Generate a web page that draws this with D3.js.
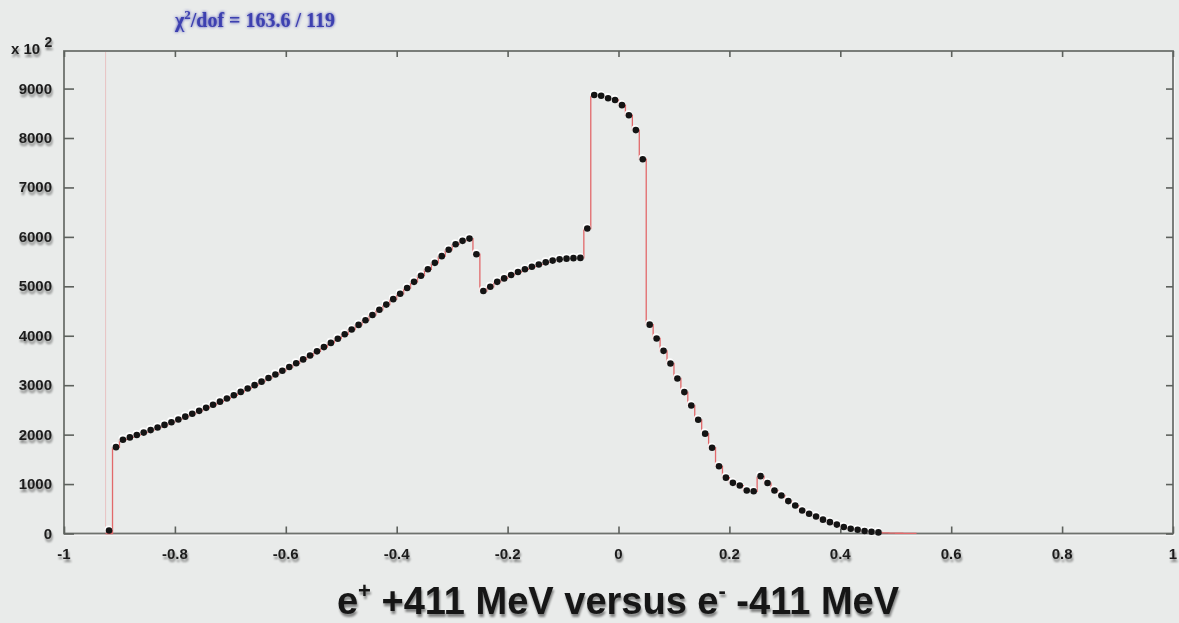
<!DOCTYPE html>
<html>
<head>
<meta charset="utf-8">
<script src="https://cdn.jsdelivr.net/npm/d3@7/dist/d3.min.js"></script>
<style>
  html, body { margin: 0; padding: 0; background: #e9ebea; }
  svg { display: block; }
</style>
</head>
<body>
<svg id="chart" width="1179" height="623"></svg>
<script>
// Histogram binning (x in units of the plotted variable)
const binLow = -0.925;
const binWidth = 0.0125;

// Measured counts per bin (axis units of 10^2), first bin starts at binLow
const counts = [
  60, 1747, 1897,
  1944, 1992, 2041, 2092, 2144, 2197, 2251, 2307, 2364, 2422, 2481, 2542, 2604,
  2667, 2731, 2797, 2864, 2932, 3001, 3072, 3144, 3217, 3291, 3367, 3444, 3522,
  3600, 3685, 3770, 3855, 3940, 4030, 4125, 4220, 4315, 4420, 4525, 4630, 4740,
  4850, 4965, 5090, 5215, 5345, 5475, 5610, 5740, 5850, 5920,
  5965, 5650,
  4905, 4990, 5090, 5160, 5230, 5290, 5345, 5395, 5440, 5485, 5520, 5545, 5560, 5570, 5575,
  6170,
  8870, 8855, 8805, 8770, 8665, 8460, 8160, 7570,
  4225, 3945, 3695, 3440, 3135, 2860, 2590, 2300, 2020, 1735,
  1360, 1130, 1025, 970, 870, 855, 1160, 1020, 870, 770,
  655, 565, 465, 400, 345, 280, 230, 180, 130, 95,
  75, 50, 35, 22
];

// Fitted histogram: empty first bin, follows the data, then a short tail
const fitHead = [0];
const fitTail = [14, 9, 5, 3, 1];
const fitValues = fitHead.concat(counts.slice(1), fitTail);

const xTicks = [-1, -0.8, -0.6, -0.4, -0.2, 0, 0.2, 0.4, 0.6, 0.8, 1];
const xTickLabels = ["-1", "-0.8", "-0.6", "-0.4", "-0.2", "0", "0.2", "0.4", "0.6", "0.8", "1"];
const yTicks = [0, 1000, 2000, 3000, 4000, 5000, 6000, 7000, 8000, 9000];
const yTickLabels = ["0", "1000", "2000", "3000", "4000", "5000", "6000", "7000", "8000", "9000"];

const chiText = { chi: "\u03C7", sup: "2", rest: "/dof = 163.6 / 119" };

const svg = d3.select("#chart");
const W = 1179, H = 623;
const plot = { left: 64, right: 1173, top: 51, bottom: 533.5 };

const x = d3.scaleLinear().domain([-1, 1]).range([plot.left, plot.right]);
const y = d3.scaleLinear().domain([0, 9760]).range([plot.bottom, plot.top]);

// Soft drop shadow used by the texts
const defs = svg.append("defs");
const sh = defs.append("filter").attr("id", "shadow")
  .attr("x", "-10%").attr("y", "-30%").attr("width", "130%").attr("height", "180%");
sh.append("feGaussianBlur").attr("in", "SourceAlpha").attr("stdDeviation", 1.3).attr("result", "b");
sh.append("feOffset").attr("in", "b").attr("dx", 1).attr("dy", 2.5).attr("result", "o");
sh.append("feComponentTransfer").attr("in", "o").attr("result", "o2")
  .append("feFuncA").attr("type", "linear").attr("slope", 0.45);
const m = sh.append("feMerge");
m.append("feMergeNode").attr("in", "o2");
m.append("feMergeNode").attr("in", "SourceGraphic");

const glow = defs.append("filter").attr("id", "glow")
  .attr("x", "-10%").attr("y", "-40%").attr("width", "120%").attr("height", "180%");
glow.append("feGaussianBlur").attr("in", "SourceGraphic").attr("stdDeviation", 1.6).attr("result", "g");
const gm = glow.append("feMerge");
gm.append("feMergeNode").attr("in", "g");
gm.append("feMergeNode").attr("in", "SourceGraphic");

svg.append("rect").attr("width", W).attr("height", H).attr("fill", "#e9ebea");

// Frame
const frame = svg.append("g");
frame.append("rect")
  .attr("x", plot.left + 1).attr("y", plot.top + 1.5)
  .attr("width", plot.right - plot.left).attr("height", plot.bottom - plot.top)
  .attr("fill", "none").attr("stroke", "#fafafa").attr("stroke-width", 1.5);
frame.append("rect")
  .attr("x", plot.left).attr("y", plot.top)
  .attr("width", plot.right - plot.left).attr("height", plot.bottom - plot.top)
  .attr("fill", "#e9ebea").attr("stroke", "#6e726e").attr("stroke-width", 1.8);

// Faint marker at the lower edge of the fitted range
svg.append("line")
  .attr("x1", x(binLow)).attr("x2", x(binLow))
  .attr("y1", plot.top + 1).attr("y2", plot.bottom - 1)
  .attr("stroke", "#e7a9aa").attr("stroke-width", 1).attr("opacity", 0.6);

// Axes (ticks drawn inward)
const axisStyle = g => {
  g.select(".domain").remove();
  g.selectAll(".tick line").attr("stroke", "#5d615d").attr("stroke-width", 1.6);
};

svg.append("g").attr("transform", `translate(0,${plot.bottom})`)
  .call(d3.axisBottom(x).tickValues(xTicks).tickSize(-7).tickFormat(""))
  .call(axisStyle);
svg.append("g").attr("transform", `translate(0,${plot.top})`)
  .call(d3.axisTop(x).tickValues(xTicks).tickSize(-6).tickFormat(""))
  .call(axisStyle);
svg.append("g").attr("transform", `translate(${plot.left},0)`)
  .call(d3.axisLeft(y).tickValues(yTicks).tickSize(-10).tickFormat(""))
  .call(axisStyle);
svg.append("g").attr("transform", `translate(${plot.right},0)`)
  .call(d3.axisRight(y).tickValues(yTicks).tickSize(-7).tickFormat(""))
  .call(axisStyle);

const labelFont = "'Liberation Sans Narrow', 'Liberation Sans', Arial, sans-serif";

// Tick labels
svg.append("g").attr("filter", "url(#shadow)")
  .selectAll("text").data(yTicks).join("text")
  .attr("x", 52).attr("y", d => y(d) + 5)
  .attr("text-anchor", "end")
  .attr("font-family", labelFont).attr("font-weight", "bold").attr("font-size", 15)
  .attr("fill", "#1e1e1e")
  .text((d, i) => yTickLabels[i]);

svg.append("g").attr("filter", "url(#shadow)")
  .selectAll("text").data(xTicks).join("text")
  .attr("x", d => x(d)).attr("y", 559)
  .attr("text-anchor", "middle")
  .attr("font-family", labelFont).attr("font-weight", "bold").attr("font-size", 15)
  .attr("fill", "#1e1e1e")
  .text((d, i) => xTickLabels[i]);

// Exponent marker
const ex = svg.append("text").attr("filter", "url(#shadow)")
  .attr("x", 11).attr("y", 54)
  .attr("font-family", labelFont).attr("font-weight", "bold").attr("font-size", 15)
  .attr("fill", "#1e1e1e");
ex.append("tspan").text("x 10 ");
ex.append("tspan").attr("dy", -7).attr("font-size", 14).text("2");

// Axis title
const title = svg.append("text").attr("filter", "url(#shadow)")
  .attr("x", 618).attr("y", 614).attr("text-anchor", "middle")
  .attr("font-family", labelFont).attr("font-weight", "bold").attr("font-size", 38)
  .attr("fill", "#161616");
title.append("tspan").text("e");
title.append("tspan").attr("dy", -16).attr("font-size", 22).text("+");
title.append("tspan").attr("dy", 16).text(" +411 MeV versus e");
title.append("tspan").attr("dy", -16).attr("font-size", 22).text("-");
title.append("tspan").attr("dy", 16).text(" -411 MeV");

// Fit quality label
const chi = svg.append("text").attr("filter", "url(#glow)")
  .attr("x", 175).attr("y", 27)
  .attr("font-family", "'Liberation Serif', 'DejaVu Serif', serif").attr("font-weight", "bold")
  .attr("font-size", 20).attr("fill", "#3d40b0");
chi.append("tspan").text(chiText.chi);
chi.append("tspan").attr("dy", -8).attr("font-size", 13).text(chiText.sup);
chi.append("tspan").attr("dy", 8).text(chiText.rest);

// Fitted histogram as a step line along bin edges
const fitPts = [];
fitValues.forEach((v, i) => {
  const lo = binLow + i * binWidth;
  fitPts.push([lo, v], [lo + binWidth, v]);
});
const stepLine = d3.line().x(d => x(d[0])).y(d => y(d[1]));
svg.append("path").datum(fitPts)
  .attr("d", stepLine)
  .attr("fill", "none").attr("stroke", "#e2696b").attr("stroke-width", 1.3);

// Data points at bin centres
const pts = counts.map((v, i) => ({ cx: binLow + (i + 0.5) * binWidth, v }));
const dots = svg.append("g");
dots.selectAll("circle.hl").data(pts).join("circle").attr("class", "hl")
  .attr("cx", d => x(d.cx) - 0.6).attr("cy", d => y(d.v) - 1.3)
  .attr("r", 3.8).attr("fill", "#ffffff").attr("opacity", 0.9);
dots.selectAll("circle.pt").data(pts).join("circle").attr("class", "pt")
  .attr("cx", d => x(d.cx)).attr("cy", d => y(d.v))
  .attr("r", 3.3).attr("fill", "#141414");
</script>
</body>
</html>
